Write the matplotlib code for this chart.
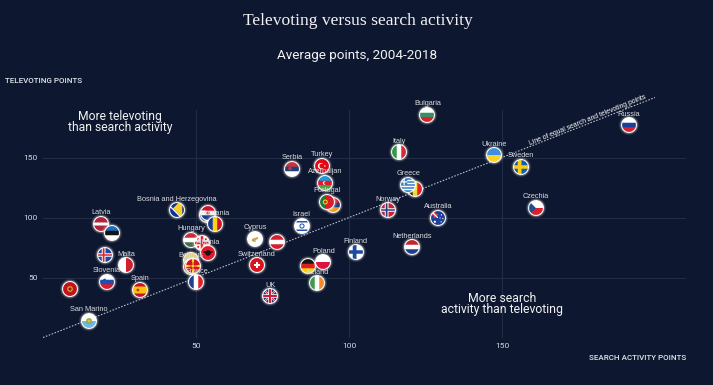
import numpy as np
import matplotlib
matplotlib.use("Agg")
import matplotlib.pyplot as plt
from matplotlib.colors import to_rgb
from matplotlib.offsetbox import OffsetImage, AnnotationBbox

countries = ["Latvia","Estonia","Iceland","Malta","Slovenia","Montenegro","Spain","San Marino",
             "Bosnia and Herzegovina","Moldova","Croatia","Romania","Hungary","Georgia","Albania",
             "Lithuania","Belarus","Macedonia","France","Cyprus","Austria","Switzerland","UK",
             "Germany","Poland","Ireland","Finland","Netherlands","Israel","Serbia","Turkey",
             "Azerbaijan","Armenia","Portugal","Belgium","Greece","Norway","Australia","Italy",
             "Bulgaria","Ukraine","Sweden","Czechia","Russia"]
search = [18.9,22.6,20.2,27.1,20.8,8.9,31.6,14.9,43.7,53.6,54.0,56.2,48.4,52.1,54.0,48.3,48.4,48.9,50.1,
          69.3,76.6,69.9,74.3,86.6,91.6,89.6,102.2,120.6,84.5,81.3,91.1,92.2,94.7,92.7,121.6,119.4,
          112.8,129.0,116.4,125.6,147.5,156.3,161.0,191.5]
televote = [94.8,86.8,68.8,60.2,46.5,40.7,39.6,13.8,106.0,102.0,103.5,94.3,81.5,78.5,70.2,64.2,58.8,59.8,46.0,
            82.1,79.3,60.2,34.3,59.8,62.7,45.2,71.0,75.0,93.2,140.7,142.9,129.0,110.2,112.9,124.0,127.1,
            106.0,99.6,154.3,185.4,151.8,142.1,107.9,176.8]
unlabelled = ["Estonia","Iceland","Montenegro","Moldova","Croatia","Georgia","Lithuania","Macedonia","Austria",
              "Germany","Armenia","Belgium"]
x_ticks = [50, 100, 150]
y_ticks = [50, 100, 150]
title = "Televoting versus search activity"
subtitle = "Average points, 2004-2018"

BG = "#0d1730"
W, H = 713, 385
plt.rcParams["font.family"] = ["Roboto", "DejaVu Sans"]
fig = plt.figure(figsize=(W/100, H/100), dpi=100, facecolor=BG)
ax = fig.add_axes([43/W, 1-337.5/H, 642.6/W, 228/H], facecolor=BG)
ax.set_xlim(0, 210)
ax.set_ylim(0, 190)
for s in ax.spines.values():
    s.set_visible(False)
ax.set_xticks(x_ticks)
ax.set_yticks(y_ticks)
ax.grid(True, color="#222c47", lw=0.8, zorder=0)
ax.set_axisbelow(True)
ax.tick_params(length=0, colors="#d5d8df", labelsize=6.0, pad=4)

ax.plot([0, 200], [0, 200], color="#b9bfcc", lw=0.8, ls=(0, (1.4, 1.4)), clip_on=False, zorder=2)

# ---------- flag painting (circular RGBA stamps) ----------
SS, N = 4, 28
R_FLAG, R_RING, R_GLOW = 6.9, 7.9, 11.0
c = (np.arange(N*SS)+0.5)/SS - N/2
U, V = np.meshgrid(c, c)
u, v = U/R_FLAG, V/R_FLAG   # v positive is downward

def new(col):
    a = np.zeros(u.shape+(3,)); a[...] = to_rgb(col); return a
def fill(a, m, col):
    a[m] = to_rgb(col); return a
def hs(*cols):
    a = new(cols[0]); n = len(cols)
    for i, cc in enumerate(cols):
        fill(a, (v >= -1+2*i/n), cc)
    return a
def vs(*cols):
    a = new(cols[0]); n = len(cols)
    for i, cc in enumerate(cols):
        fill(a, (u >= -1+2*i/n), cc)
    return a
def nordic(bg, cr, inner=None):
    a = new(bg)
    w = .26
    fill(a, (abs(u+.2) < w) | (abs(v) < w), cr)
    if inner:
        w = .12
        fill(a, (abs(u+.2) < w) | (abs(v) < w), inner)
    return a
def disc(a, x, y, r, col):
    return fill(a, (u-x)**2+(v-y)**2 < r*r, col)
def crescent(a, x, y, r, col, bg):
    disc(a, x, y, r, col); disc(a, x+.13, y, r*.8, bg); return a

def flag(name):
    if name == "Latvia": return hs("#b3243c", "#b3243c", "#ffffff", "#b3243c", "#b3243c")
    if name == "Estonia": return hs("#1e6fbf", "#141414", "#ffffff")
    if name == "Iceland": return nordic("#1c4aa8", "#ffffff", "#d72828")
    if name == "Malta": return vs("#ffffff", "#cf2030")
    if name == "Slovenia":
        a = hs("#ffffff", "#1f50b0", "#e01a2c"); disc(a, -.35, -.25, .24, "#1f50b0"); return a
    if name == "Montenegro":
        a = new("#c4111b"); disc(a, 0, 0, .42, "#d7a12b"); disc(a, 0, 0, .22, "#8e1a14"); return a
    if name == "Spain":
        a = hs("#c8102e", "#fcc30b", "#fcc30b", "#c8102e"); disc(a, -.3, 0, .2, "#b23a2a"); return a
    if name == "San Marino":
        a = hs("#ffffff", "#6fb8e8"); disc(a, 0, 0, .42, "#8aa83a"); disc(a, 0, 0, .22, "#d9c24a"); return a
    if name == "Bosnia and Herzegovina":
        a = new("#12358c")
        fill(a, (v < u+.3) & (u+v > -.8) & (u < .75), "#f9cf26")
        fill(a, abs(v-u-.48) < .13, "#ffffff")
        return a
    if name == "Moldova": return vs("#1c4fa8", "#f5cf2a", "#cf2035")
    if name == "Croatia":
        a = hs("#d5122a", "#ffffff", "#17408f"); disc(a, 0, 0, .26, "#d5574f"); return a
    if name == "Romania": return vs("#1a3a94", "#fbd116", "#ce1126")
    if name == "Hungary": return hs("#cd2a3e", "#ffffff", "#436f4d")
    if name == "Georgia":
        a = new("#ffffff"); fill(a, (abs(u) < .17) | (abs(v) < .17), "#e0202e")
        for px, py in [(-.55, -.55), (.55, -.55), (-.55, .55), (.55, .55)]:
            disc(a, px, py, .15, "#e0202e")
        return a
    if name == "Albania":
        a = new("#e11a2c"); disc(a, 0, 0, .4, "#141414")
        fill(a, (abs(u) < .65) & (abs(v+.15) < .12), "#141414"); return a
    if name == "Lithuania": return hs("#e9cf6a", "#cfd0a0", "#d06a5a")
    if name == "Belarus": return hs("#c8313e", "#c8313e", "#4aa657")
    if name == "Macedonia":
        a = new("#d8141e"); ang = np.arctan2(v, u)
        fill(a, (np.cos(4*ang) > .72), "#f8d92c")
        disc(a, 0, 0, .3, "#d8141e"); disc(a, 0, 0, .23, "#f8d92c"); return a
    if name == "France": return vs("#1f3f95", "#ffffff", "#e1202f")
    if name == "Cyprus":
        a = new("#ffffff"); fill(a, (abs(v+u*.35) < .16) & (abs(u) < .45), "#d8a13a")
        fill(a, (abs(u+.12) < .25) & (abs(v-.3) < .07), "#8aa04a"); return a
    if name == "Austria": return hs("#d5202f", "#ffffff", "#d5202f")
    if name == "Switzerland":
        a = new("#d7141e"); fill(a, ((abs(u) < .42) & (abs(v) < .14)) | ((abs(v) < .42) & (abs(u) < .14)), "#ffffff"); return a
    if name == "UK":
        a = new("#24357f")
        fill(a, (abs(u-v) < .2) | (abs(u+v) < .2), "#ffffff")
        fill(a, (abs(u-v) < .08) | (abs(u+v) < .08), "#d01c33")
        fill(a, (abs(u) < .24) | (abs(v) < .24), "#ffffff")
        fill(a, (abs(u) < .13) | (abs(v) < .13), "#d01c33"); return a
    if name == "Germany": return hs("#151515", "#dd1f26", "#ffce00")
    if name == "Poland": return hs("#ffffff", "#dc143c")
    if name == "Ireland": return vs("#3f9b4f", "#ffffff", "#f18a2b")
    if name == "Finland": return nordic("#ffffff", "#1c4a9e")
    if name == "Netherlands": return hs("#c1272d", "#ffffff", "#1d3f8f")
    if name == "Israel":
        a = new("#ffffff")
        fill(a, (abs(v) > .5) & (abs(v) < .72), "#1f55b5")
        fill(a, ((u*u+v*v) < .14) & ((u*u+v*v) > .05), "#1f55b5"); return a
    if name == "Serbia":
        a = hs("#c6363c", "#1c3f80", "#ffffff"); disc(a, -.3, -.05, .25, "#c6363c"); return a
    if name == "Turkey":
        a = new("#e20a17"); crescent(a, -.15, 0, .45, "#ffffff", "#e20a17"); disc(a, .42, 0, .1, "#ffffff"); return a
    if name == "Azerbaijan":
        a = hs("#1a9bd7", "#e1182f", "#4aa93c"); crescent(a, -.05, 0, .26, "#ffffff", "#e1182f"); return a
    if name == "Armenia": return hs("#d8202a", "#1c3f90", "#f39a20")
    if name == "Portugal":
        a = new("#d81e2a"); fill(a, u <= -.25, "#1a7d3a")
        disc(a, -.25, 0, .36, "#f0d020"); disc(a, -.25, 0, .2, "#c8202a"); return a
    if name == "Belgium": return vs("#151515", "#f6d827", "#e01f2f")
    if name == "Greece":
        a = new("#ffffff")
        fill(a, (np.floor((v+1)*9/2).astype(int) % 2) == 0, "#2f7cc6")
        fill(a, (u < -.1) & (v < .05), "#2f7cc6")
        fill(a, (u < -.1) & (v < .05) & ((abs(u+.55) < .09) | (abs(v+.47) < .09)), "#ffffff"); return a
    if name == "Norway": return nordic("#c8203a", "#ffffff", "#1c3e85")
    if name == "Australia":
        a = new("#1d3f98")
        for px, py, r in [(.5, -.45, .09), (.3, 0, .09), (.7, .1, .09), (.45, .55, .09), (-.45, .55, .16)]:
            disc(a, px, py, r, "#ffffff")
        fill(a, (u < 0) & (v < 0) & ((abs(u+.5) < .12) | (abs(v+.5) < .12)), "#e0404a")
        fill(a, (u < 0) & (v < 0) & (abs(u-v) < .12), "#ffffff"); return a
    if name == "Italy": return vs("#2f9a48", "#ffffff", "#d8293a")
    if name == "Bulgaria": return hs("#ffffff", "#3a8f66", "#d8202a")
    if name == "Ukraine": return hs("#3f8fe0", "#fdd228")
    if name == "Sweden": return nordic("#1062a8", "#fcc917")
    if name == "Czechia":
        a = hs("#ffffff", "#d8202f"); fill(a, (u+1.0) < (1-abs(v))*1.0, "#1c4f95"); return a
    if name == "Russia": return hs("#ffffff", "#1c3f9c", "#d5202f")
    return new("#888888")

def stamp(name):
    rgb = flag(name)
    r = np.hypot(U, V)
    glow = np.clip((R_GLOW-r)/(R_GLOW-R_RING), 0, 1)**2*0.5
    out = np.ones(r.shape+(3,))
    out[...] = to_rgb("#fff6e6")
    ring = r <= R_RING
    alpha = np.where(ring, 1.0, glow)
    out[ring] = (1, 1, 1)
    inside = r <= R_FLAG
    out[inside] = rgb[inside]
    rgba = np.dstack([out*alpha[..., None], alpha])
    small = rgba.reshape(N, SS, N, SS, 4).mean(axis=(1, 3))
    a = small[..., 3:]
    small[..., :3] = np.where(a > 0, small[..., :3]/np.maximum(a, 1e-6), 1)
    return small

ax.scatter(search, televote, s=110, color="#ffffff", alpha=0.25, linewidths=0, zorder=2.5)

for i, (name, x, y) in enumerate(zip(countries, search, televote)):
    img = OffsetImage(stamp(name), zoom=0.72, interpolation="bilinear")
    ab = AnnotationBbox(img, (x, y), frameon=False, pad=0, box_alignment=(0.5, 0.5), zorder=3+i*0.01)
    ax.add_artist(ab)
    if name not in unlabelled:
        ax.annotate(name, (x, y), xytext=(0, 8), textcoords="offset points", ha="center", va="center",
                    fontsize=5.3, color="#d9dbdf", family=["Liberation Sans"], zorder=10)

ax.text(178, 181, "Line of equal search and televoting points", rotation=22, rotation_mode="anchor",
        ha="center", va="center", fontsize=4.9, color="#ffffff", family=["Liberation Sans"], clip_on=False, zorder=11)

fig.text(357.5/W, 1-21/H, title, ha="center", va="center", fontsize=12.6, color="#f2f2f2", family=["Liberation Serif"])
fig.text(357.5/W, 1-55/H, subtitle, ha="center", va="center", fontsize=9.7, color="#f2f2f2")
fig.text(5/W, 1-81/H, "TELEVOTING POINTS", ha="left", va="center", fontsize=5.8, color="#e3e5ea", weight="medium")
fig.text(686/W, 1-358/H, "SEARCH ACTIVITY POINTS", ha="right", va="center", fontsize=5.8, color="#e3e5ea", weight="medium")
fig.text(120/W, 1-122/H, "More televoting\nthan search activity", ha="center", va="center", fontsize=8.7,
         color="#f2f2f2", linespacing=0.88)
fig.text(502/W, 1-304/H, "More search\nactivity than televoting", ha="center", va="center", fontsize=8.8,
         color="#f2f2f2", linespacing=0.88)

fig.savefig("out.png", dpi=100, facecolor=BG)
